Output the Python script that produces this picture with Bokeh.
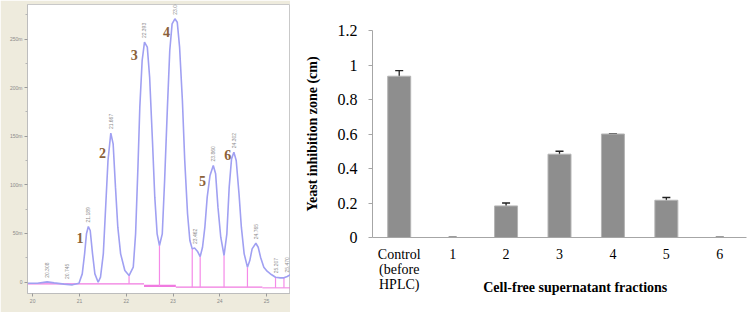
import math
from bokeh.plotting import figure
from bokeh.layouts import row
from bokeh.models import ColumnDataSource, FixedTicker, Whisker, TeeHead, Label
from bokeh.core.properties import value
from bokeh.embed import file_html
from bokeh.resources import INLINE

# ---------------- Left panel: HPLC chromatogram ----------------
time_min = [19.89, 20.10, 20.31, 20.46, 20.67, 20.85, 20.99, 21.06, 21.11, 21.15,
            21.19, 21.23, 21.28, 21.33, 21.40, 21.45, 21.51, 21.56, 21.61, 21.67,
            21.72, 21.77, 21.82, 21.88, 21.97, 22.06, 22.15, 22.20, 22.25, 22.29,
            22.34, 22.39, 22.45, 22.50, 22.56, 22.61, 22.66, 22.71, 22.77, 22.82,
            22.88, 22.93, 22.98, 23.04, 23.09, 23.14, 23.20, 23.25, 23.31, 23.36,
            23.41, 23.46, 23.52, 23.58, 23.63, 23.68, 23.73, 23.79, 23.86, 23.91,
            23.96, 24.02, 24.09, 24.15, 24.20, 24.25, 24.30, 24.35, 24.41, 24.46,
            24.52, 24.59, 24.64, 24.69, 24.77, 24.82, 24.87, 24.94, 25.01, 25.10,
            25.19, 25.29, 25.37, 25.44, 25.51]
signal = [-1.2, -1.2, 0.2, -0.9, -2.2, -2.9, -1.2, 8.4, 29.0, 49.6,
          57.1, 53.0, 29.0, 8.4, -0.2, 5.0, 29.0, 77.0, 125.0, 153.2,
          142.2, 97.6, 56.4, 29.0, 11.8, 6.7, 15.3, 49.6, 118.2, 179.9,
          227.9, 246.8, 241.6, 210.7, 145.6, 87.3, 49.6, 37.6, 49.6, 104.4,
          179.9, 238.2, 265.6, 270.8, 267.3, 241.6, 186.8, 125.0, 70.2, 42.7,
          34.1, 35.1, 31.7, 26.2, 35.8, 56.4, 87.3, 109.6, 119.9, 111.3,
          77.0, 46.1, 27.3, 49.6, 97.6, 126.7, 133.6, 125.0, 90.7, 56.4,
          29.0, 15.3, 22.1, 34.1, 39.9, 35.8, 25.6, 15.3, 11.1, 7.7,
          4.9, 4.3, 4.3, 5.7, 7.7]

# integration baseline segments (start, end, level)
base_start = [19.89, 22.38, 23.06, 24.91]
base_end = [22.38, 23.06, 24.91, 25.51]
base_level = [-1.9, -4.0, -5.3, -6.0]
base_width = [1.2, 2.2, 1.2, 1.0]

# peak-separation drop lines (time, bottom, top)
drop_t = [22.06, 22.71, 23.41, 23.58, 24.09, 24.59, 25.19, 25.37]
drop_bottom = [-1.9, -4.0, -5.3, -5.3, -5.3, -5.3, -6.0, -6.0]
drop_top = [6.7, 37.6, 34.1, 26.2, 27.3, 15.3, 4.9, 4.3]

# fraction numbers
frac_labels = ["1", "2", "3", "4", "5", "6"]
frac_t = [21.01, 21.49, 22.17, 22.86, 23.63, 24.17]
frac_s = [45.4, 132.6, 233.1, 257.1, 104.4, 130.2]

# retention-time annotations above peaks
rt_text = ["20.308", "20.745", "21.189", "21.667", "22.393", "23.041",
           "23.462", "23.860", "24.302", "24.765", "25.207", "25.470"]
rt_t = [20.31, 20.74, 21.19, 21.67, 22.39, 23.04, 23.46, 23.86, 24.30, 24.77, 25.21, 25.43]
rt_s = [0.2, -1.0, 57.1, 153.2, 246.8, 270.8, 35.1, 119.9, 133.6, 39.9, 4.9, 5.7]

x_ticks_left = [20, 21, 22, 23, 24, 25]
y_ticks_left = [0, 50, 100, 150, 200, 250]
y_labels_left = ["0", "50m", "100m", "150m", "200m", "250m"]

p1 = figure(width=290, height=312, x_range=(19.89, 25.51), y_range=(-11.8, 285.5),
            output_backend="svg", toolbar_location=None,
            min_border_left=27, min_border_right=0, min_border_top=4, min_border_bottom=19)
p1.border_fill_color = "#eeebdd"
p1.background_fill_color = "white"
p1.outline_line_color = "#c9c9c9"
p1.grid.visible = False
for ax in (p1.xaxis[0], p1.yaxis[0]):
    ax.axis_line_color = "#bdbdbd"
    ax.major_tick_line_color = "#9a9a9a"
    ax.minor_tick_line_color = "#b5b5b5"
    ax.major_tick_in = 0
    ax.major_tick_out = 3
    ax.minor_tick_in = 0
    ax.minor_tick_out = 2
    ax.major_label_text_font_size = "5px"
    ax.major_label_text_color = "#8a8a8a"
    ax.major_label_standoff = 2
p1.xaxis.ticker = FixedTicker(ticks=x_ticks_left)
p1.yaxis.ticker = FixedTicker(ticks=y_ticks_left,
                              minor_ticks=[25, 75, 125, 175, 225, 275])
p1.yaxis.major_label_overrides = {t: l for t, l in zip(y_ticks_left, y_labels_left)}

src_b = ColumnDataSource(dict(x0=base_start, x1=base_end, y=base_level, w=base_width))
p1.segment(x0="x0", y0="y", x1="x1", y1="y", line_width="w", line_color="#f07ae0",
           source=src_b)
src_d = ColumnDataSource(dict(x=drop_t, y0=drop_bottom, y1=drop_top))
p1.segment(x0="x", y0="y0", x1="x", y1="y1", line_width=1.2, line_color="#f58ae8",
           source=src_d)
p1.line(time_min, signal, line_color="#a0a0f2", line_width=1.6)

src_rt = ColumnDataSource(dict(x=rt_t, y=rt_s, t=rt_text))
p1.text(x="x", y="y", text="t", source=src_rt, angle=math.pi / 2,
        text_font_size="5px", text_color="#8c8c8c", text_align="left",
        text_baseline="middle", x_offset=0, y_offset=-4)

src_f = ColumnDataSource(dict(x=frac_t, y=frac_s, t=frac_labels))
p1.text(x="x", y="y", text="t", source=src_f, text_font=value("Liberation Serif"),
        text_font_style="bold", text_font_size="14px", text_color="#8b6139",
        text_align="center", text_baseline="middle")

p1.add_layout(Label(x=19.80, y=284, text="uV", text_font_size="5px",
                    text_color="#8a8a8a", text_align="right", text_baseline="middle"))

# ---------------- Right panel: bar chart ----------------
categories = ["Control\n(before\nHPLC)", "1", "2", "3", "4", "5", "6"]
zone_cm = [0.935, 0.0, 0.183, 0.483, 0.600, 0.216, 0.0]
zone_err = [0.032, 0.0, 0.017, 0.017, 0.0, 0.016, 0.0]
y_ticks = [0, 0.2, 0.4, 0.6, 0.8, 1.0, 1.2]
y_tick_labels = ["0", "0.2", "0.4", "0.6", "0.8", "1", "1.2"]

idx = list(range(len(categories)))
src = ColumnDataSource(dict(
    x=idx, top=zone_cm,
    upper=[v + e for v, e in zip(zone_cm, zone_err)],
    lower=[v - e for v, e in zip(zone_cm, zone_err)],
))

p2 = figure(width=460, height=312, x_range=(-0.5, 6.5), y_range=(0, 1.2),
            output_backend="svg", toolbar_location=None,
            min_border_left=82, min_border_right=4, min_border_top=30,
            min_border_bottom=75)
p2.outline_line_color = None
p2.grid.visible = False
p2.background_fill_color = "white"
p2.border_fill_color = "white"

p2.vbar(x="x", top="top", width=0.43, source=src, fill_color="#8e8e8e",
        line_color="#b4b4b4", line_width=1)
wh = Whisker(base="x", upper="upper", lower="lower", source=src,
             line_color="#222222", line_width=1.3,
             upper_head=TeeHead(size=8, line_color="#222222", line_width=1.3),
             lower_head=TeeHead(size=8, line_color="#222222", line_width=1.3))
p2.add_layout(wh)

serif = "Liberation Serif"
ya = p2.yaxis[0]
ya.ticker = FixedTicker(ticks=y_ticks, minor_ticks=[])
ya.major_label_overrides = {t: l for t, l in zip(y_ticks, y_tick_labels)}
ya.axis_line_color = "#a6a6a6"
ya.major_tick_line_color = "#a6a6a6"
ya.major_tick_in = 0
ya.major_tick_out = 4
ya.minor_tick_line_color = None
ya.major_label_text_font = serif
ya.major_label_text_font_size = "16px"
ya.major_label_text_color = "black"
ya.major_label_standoff = 11
ya.axis_label = "Yeast inhibition zone (cm)"
ya.axis_label_text_font = serif
ya.axis_label_text_font_style = "bold"
ya.axis_label_text_font_size = "14px"
ya.axis_label_text_color = "black"
ya.axis_label_standoff = 15

xa = p2.xaxis[0]
xa.ticker = FixedTicker(ticks=idx, minor_ticks=[])
xa.major_label_overrides = {i: c for i, c in zip(idx, categories)}
xa.axis_line_color = "#a6a6a6"
xa.major_tick_line_color = None
xa.minor_tick_line_color = None
xa.major_tick_out = 0
xa.major_tick_in = 0
xa.major_label_text_font = serif
xa.major_label_text_font_size = "14px"
xa.major_label_text_color = "black"
xa.major_label_standoff = 9
xa.major_label_text_line_height = 1.0
xa.axis_label = "\u00a0" * 9 + "Cell-free supernatant fractions"
xa.axis_label_text_font = serif
xa.axis_label_text_font_style = "bold"
xa.axis_label_text_font_size = "14px"
xa.axis_label_text_color = "black"
xa.axis_label_standoff = -15

# do not align the two plot frames with each other
for p in (p1, p2):
    if "frame_align" in p.properties():
        p.frame_align = False

layout = row(p1, p2)
open("out.html", "w").write(file_html(layout, INLINE))
